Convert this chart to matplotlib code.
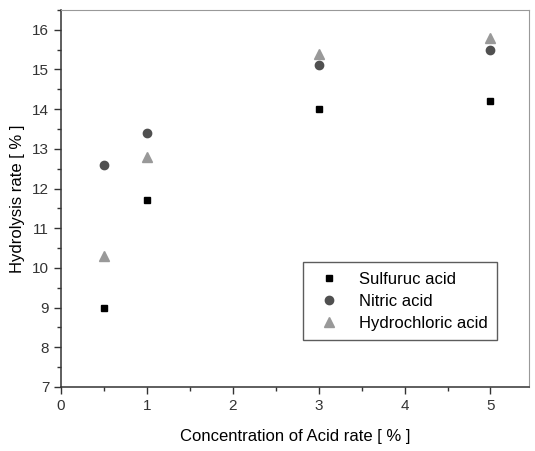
import matplotlib
matplotlib.use('agg')
import matplotlib.pyplot as plt
from matplotlib.ticker import MultipleLocator

plt.rcParams['font.family'] = ['Liberation Sans', 'DejaVu Sans']

# data
conc = [0.5, 1, 3, 5]
sulfuric = [9.0, 11.7, 14.0, 14.2]
nitric = [12.6, 13.4, 15.1, 15.5]
hydrochloric = [10.3, 12.8, 15.4, 15.8]
labels = ["Sulfuruc acid", "Nitric acid", "Hydrochloric acid"]

fig = plt.figure(figsize=(5.35, 4.51), dpi=100)
ax = fig.add_axes([0.114, 0.142, 0.875, 0.836])

ax.plot(conc, sulfuric, "s", color="black", markersize=5, label=labels[0])
ax.plot(conc, nitric, "o", color="#505050", markersize=6, label=labels[1])
ax.plot(conc, hydrochloric, "^", color="#999999", markersize=6.5, label=labels[2])

ax.set_xlim(0, 5.45)
ax.set_ylim(7, 16.5)
ax.xaxis.set_major_locator(MultipleLocator(1))
ax.xaxis.set_minor_locator(MultipleLocator(0.5))
ax.yaxis.set_major_locator(MultipleLocator(1))
ax.yaxis.set_minor_locator(MultipleLocator(0.5))
ax.tick_params(which='both', direction='out', top=False, right=False,
               labelsize=11, colors='#333333')
ax.tick_params(which='major', length=5, width=1)
ax.tick_params(which='minor', length=3, width=1)

for s in ['left', 'bottom']:
    ax.spines[s].set_color('#333333')
    ax.spines[s].set_linewidth(1.1)
for s in ['top', 'right']:
    ax.spines[s].set_color('#999999')
    ax.spines[s].set_linewidth(0.8)

ax.set_xlabel("Concentration of Acid rate [ % ]", fontsize=12, labelpad=12)
ax.set_ylabel("Hydrolysis rate [ % ]", fontsize=12, labelpad=5)

leg = ax.legend(loc='lower left', bbox_to_anchor=(0.5, 0.103), fontsize=12,
                fancybox=False, frameon=True, handletextpad=0.8,
                borderpad=0.55, labelspacing=0.42)
leg.get_frame().set_edgecolor('#333333')
leg.get_frame().set_linewidth(1)

fig.savefig("out.png", dpi=100)
